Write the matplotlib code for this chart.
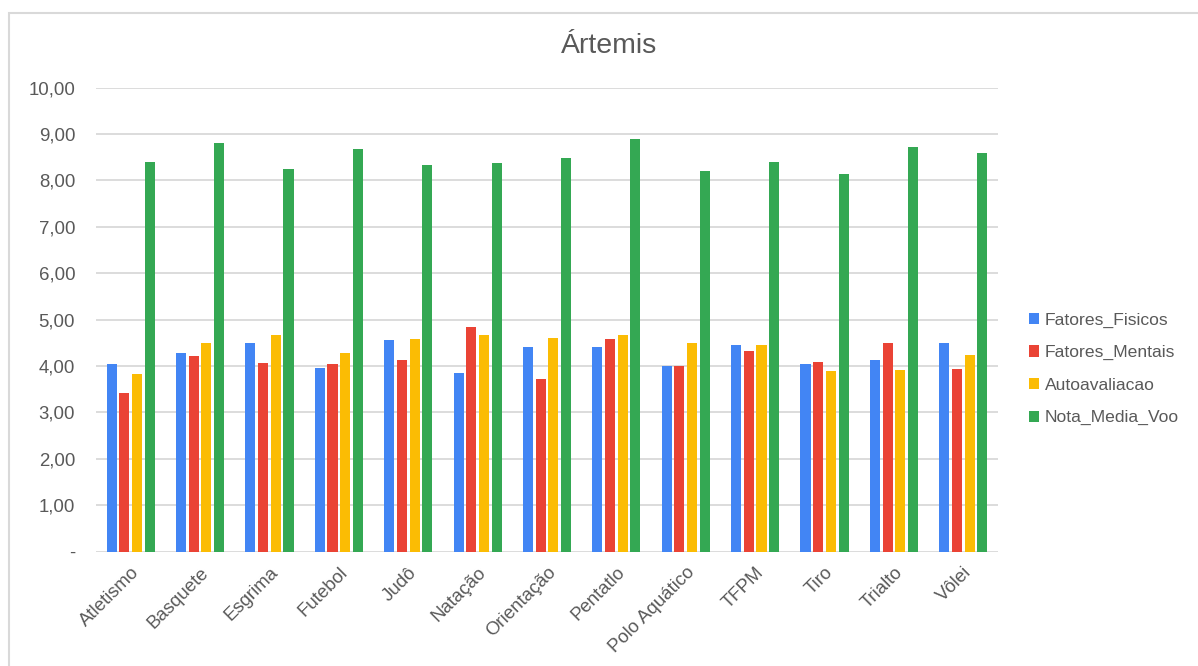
import numpy as np
import matplotlib
matplotlib.use('Agg')
import matplotlib.pyplot as plt
from matplotlib.patches import Rectangle
from matplotlib.ticker import FuncFormatter

# ── Data ──────────────────────────────────────────────────────────
categories = ['Atletismo', 'Basquete', 'Esgrima', 'Futebol', 'Judô', 'Natação',
              'Orientação', 'Pentatlo', 'Polo Aquático', 'TFPM', 'Tiro',
              'Trialto', 'Vôlei']

fatores_fisicos = [4.05, 4.27, 4.49, 3.95, 4.55, 3.84, 4.42, 4.42, 3.99, 4.45, 4.04, 4.14, 4.49]
fatores_mentais = [3.41, 4.21, 4.06, 4.04, 4.14, 4.83, 3.71, 4.58, 3.99, 4.32, 4.08, 4.49, 3.93]
autoavaliacao   = [3.82, 4.49, 4.66, 4.27, 4.58, 4.66, 4.60, 4.66, 4.49, 4.45, 3.89, 3.91, 4.23]
nota_media_voo  = [8.39, 8.80, 8.24, 8.67, 8.33, 8.37, 8.48, 8.89, 8.20, 8.39, 8.13, 8.73, 8.58]

series = [
    ('Fatores_Fisicos', fatores_fisicos, '#4285F4'),
    ('Fatores_Mentais', fatores_mentais, '#EA4335'),
    ('Autoavaliacao',   autoavaliacao,   '#FBBC04'),
    ('Nota_Media_Voo',  nota_media_voo,  '#34A853'),
]

# ── Style ─────────────────────────────────────────────────────────
plt.rcParams['font.family'] = ['Liberation Sans', 'DejaVu Sans']
TXT = '#595959'
W, H = 1198, 666

fig = plt.figure(figsize=(W / 100, H / 100), dpi=100)
fig.patches.append(Rectangle((9 / W, -0.1), 1.2, 1 - 13 / H + 0.1,
                             transform=fig.transFigure, fill=False,
                             ec='#D9D9D9', lw=1.5, zorder=0))

ax = fig.add_axes([96 / W, 1 - 551.6 / H, 902 / W, 464 / H])

x = np.arange(len(categories))
bw, step = 0.145, 0.183
for i, (name, vals, col) in enumerate(series):
    ax.bar(x + (i - 1.5) * step, vals, width=bw, color=col, label=name, zorder=3)

ax.set_xlim(-0.5, len(categories) - 0.5)
ax.set_ylim(0, 10)
ax.set_yticks(np.arange(0, 11, 1))
ax.yaxis.set_major_formatter(FuncFormatter(
    lambda v, p: '-' if v == 0 else f'{v:.2f}'.replace('.', ',')))
ax.grid(axis='y', color='#D9D9D9', lw=1.3, zorder=0)
for s in ax.spines.values():
    s.set_visible(False)
ax.tick_params(axis='both', length=0, colors=TXT, labelsize=13.4)
ax.tick_params(axis='y', pad=15)
ax.set_xticks(x)
ax.set_xticklabels(categories, rotation=45, ha='right', rotation_mode='anchor')
ax.tick_params(axis='x', pad=9)

fig.text(609 / W, 1 - 46 / H, 'Ártemis', ha='center', va='center',
         fontsize=20.5, color=TXT)

leg = fig.legend(loc='center left', bbox_to_anchor=(1013 / W, 1 - 369 / H),
                 frameon=False, fontsize=12.6, handlelength=0.6,
                 handleheight=0.6, handletextpad=0.3, labelspacing=1.0)
for t in leg.get_texts():
    t.set_color(TXT)

plt.savefig('out.png', dpi=100)
